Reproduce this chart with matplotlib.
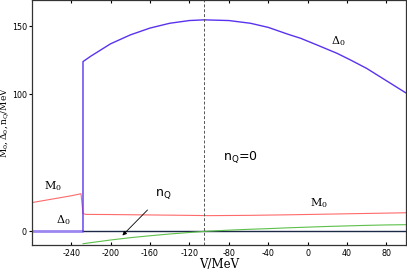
"""
Gap parameters vs V
"""

import matplotlib.pyplot as plt
import numpy as np

#---------------------------------------------------------------------------------------------------
# Data
#---------------------------------------------------------------------------------------------------

# Delta_0, trivial branch before the jump
v_trivial = [-280, -228]
delta_trivial = [0.0, 0.0]

# Delta_0, nontrivial branch
v_delta = [-228, -228, -220, -200, -180, -160, -140, -120, -105, -80, -58, -40, -20, -7,
           10, 30, 44, 60, 80, 100]
delta0 = [0.0, 124.0, 128.0, 137.0, 143.5, 148.5, 152.0, 154.0, 154.5, 154.0, 152.0, 149.0,
          144.0, 141.0, 136.0, 130.0, 125.0, 119.0, 110.0, 101.0]

# M_0
v_mass = [-280, -260, -240, -230, -228, -225, -200, -160, -120, -100, -60, -20, 20, 60, 100]
mass0 = [21.0, 23.5, 26.0, 27.5, 13.0, 12.4, 12.3, 12.0, 11.7, 11.5, 11.7, 12.1, 12.6, 13.1, 13.6]

# n_Q
v_nq = [-228, -200, -180, -160, -140, -120, -105, -80, -60, -40, -20, 0, 20, 40, 60, 80, 100]
n_q = [-9.0, -6.3, -4.6, -3.2, -1.9, -0.8, 0.0, 0.9, 1.5, 2.0, 2.6, 3.1, 3.6, 4.0, 4.4, 4.7, 4.9]

# zero line of the other solution
v_zero = [-228, 100]
zero_line = [0.0, 0.0]

v_nq0 = -105

#---------------------------------------------------------------------------------------------------
# Plot
#---------------------------------------------------------------------------------------------------

plt.rcParams['axes.unicode_minus'] = False

fig = plt.figure(figsize=(4.07, 2.72), dpi=100)
ax = fig.add_axes([0.078, 0.099, 0.92, 0.901])

ax.plot(v_trivial, delta_trivial, c='#9d86f0', lw=2.0, solid_capstyle='butt')
ax.plot(v_zero, zero_line, c='#1c2a48', lw=1.0)
ax.plot(v_mass, mass0, c='#ff6a6a', lw=0.8)
ax.plot(v_nq, n_q, c='#5cc04a', lw=0.8)
ax.plot(v_delta, delta0, c='#5a32ee', lw=1.0)
ax.axvline(v_nq0, c='#555555', lw=0.7, ls=(0, (3, 2)))

ax.text(-258, 33, r'$\mathregular{M_0}$', family='DejaVu Serif', size=8, ha='center', va='center')
ax.text(-248, 8, r'$\mathregular{\Delta_0}$', family='DejaVu Serif', size=8, ha='center', va='center')
ax.text(11, 21, r'$\mathregular{M_0}$', family='DejaVu Serif', size=8, ha='center', va='center')
ax.text(31, 139, r'$\mathregular{\Delta_0}$', family='DejaVu Serif', size=8, ha='center', va='center')
ax.text(-68, 54, r'$\mathregular{n_Q}$=0', size=9, ha='center', va='center')
ax.annotate(r'$\mathregular{n_Q}$', xy=(-188, -3), xytext=(-147, 27), size=9,
            ha='center', va='center',
            arrowprops=dict(arrowstyle='-|>', color='k', lw=0.6, mutation_scale=6,
                            shrinkA=6, shrinkB=0))

ax.set_xlim(-280, 100)
ax.set_ylim(-10, 169)
ax.set_xticks(np.arange(-240, 81, 40))
ax.set_yticks([0, 100, 150])
ax.tick_params(axis='x', direction='in', top=True, length=2.5, labelsize=5.8, pad=3)
ax.tick_params(axis='y', direction='out', length=2, labelsize=5.8, pad=1.5)
for s in ax.spines.values():
    s.set_color('#333333')
    s.set_linewidth(0.9)

ax.set_xlabel('V/MeV', family='DejaVu Serif', size=8.5, labelpad=0)
ax.set_ylabel(r'$\mathregular{M_0,\Delta_0,n_Q}$/MeV', family='DejaVu Serif', size=6.5)
ax.yaxis.set_label_coords(-0.053, 0.5)

plt.savefig('out.png', dpi=100)
